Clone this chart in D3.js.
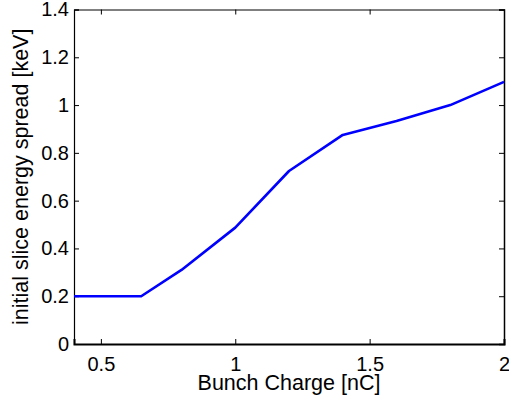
<!DOCTYPE html>
<html>
<head>
<meta charset="utf-8">
<script src="https://cdn.jsdelivr.net/npm/d3@7"></script>
<style>
  body { margin: 0; background: #fff; }
  text { font-family: "Liberation Sans", Arial, Helvetica, sans-serif; fill: #000; }
</style>
</head>
<body>
<svg id="chart" width="509" height="398"></svg>
<script>
// bunch charge [nC] and initial slice energy spread [keV]
const charge = [0.4, 0.65, 0.8, 1.0, 1.2, 1.4, 1.6, 1.8, 2.0]
const spread = [0.2, 0.2, 0.31, 0.487, 0.724, 0.875, 0.933, 1.0, 1.097]
const xTicks = [0.5, 1, 1.5, 2]
const yTicks = [0, 0.2, 0.4, 0.6, 0.8, 1, 1.2, 1.4]

const margin = {top: 9.5, right: 5, bottom: 54, left: 74}
const width = 509 - margin.left - margin.right
const height = 398 - margin.top - margin.bottom

const svg = d3.select('#chart')
const g = svg.append('g')
  .attr('transform', 'translate(' + margin.left + ',' + margin.top + ')')

const xScale = d3.scaleLinear().domain([0.4, 2]).range([0, width])
const yScale = d3.scaleLinear().domain([0, 1.4]).range([height, 0])

const fmt = d => String(d)

// mirrored inward ticks (top and right, no labels)
g.append('g')
  .call(d3.axisTop(xScale).tickValues(xTicks).tickSize(-5).tickFormat(''))
  .call(a => a.select('.domain').attr('stroke-width', 1))
g.append('g')
  .attr('transform', 'translate(' + width + ',0)')
  .call(d3.axisRight(yScale).tickValues(yTicks).tickSize(-5).tickFormat(''))
  .call(a => a.select('.domain').attr('stroke-width', 1.5))

const xAxis = g.append('g')
  .attr('transform', 'translate(0,' + height + ')')
  .call(d3.axisBottom(xScale).tickValues(xTicks).tickSize(-5).tickPadding(13).tickFormat(fmt))
xAxis.select('.domain').attr('stroke-width', 2)
xAxis.selectAll('text').attr('font-size', 20).style('font-family', '"Liberation Sans", Arial, sans-serif')

const yAxis = g.append('g')
  .call(d3.axisLeft(yScale).tickValues(yTicks).tickSize(-5).tickPadding(5).tickFormat(fmt))
yAxis.select('.domain').attr('stroke-width', 1.2)
yAxis.selectAll('text').attr('font-size', 20).style('font-family', '"Liberation Sans", Arial, sans-serif')

const line = d3.line()
  .x((d, i) => xScale(charge[i]))
  .y(d => yScale(d))

g.append('path')
  .datum(spread)
  .attr('fill', 'none')
  .attr('stroke', '#0000ff')
  .attr('stroke-width', 2.6)
  .attr('stroke-linejoin', 'round')
  .attr('d', line)

g.append('text')
  .attr('x', width / 2)
  .attr('y', height + 46)
  .attr('text-anchor', 'middle')
  .attr('font-size', 21.5)
  .text('Bunch Charge [nC]')

g.append('text')
  .attr('transform', 'translate(' + (-46) + ',' + (height / 2) + ') rotate(-90)')
  .attr('text-anchor', 'middle')
  .attr('font-size', 21.5)
  .text('initial slice energy spread [keV]')
</script>
</body>
</html>
